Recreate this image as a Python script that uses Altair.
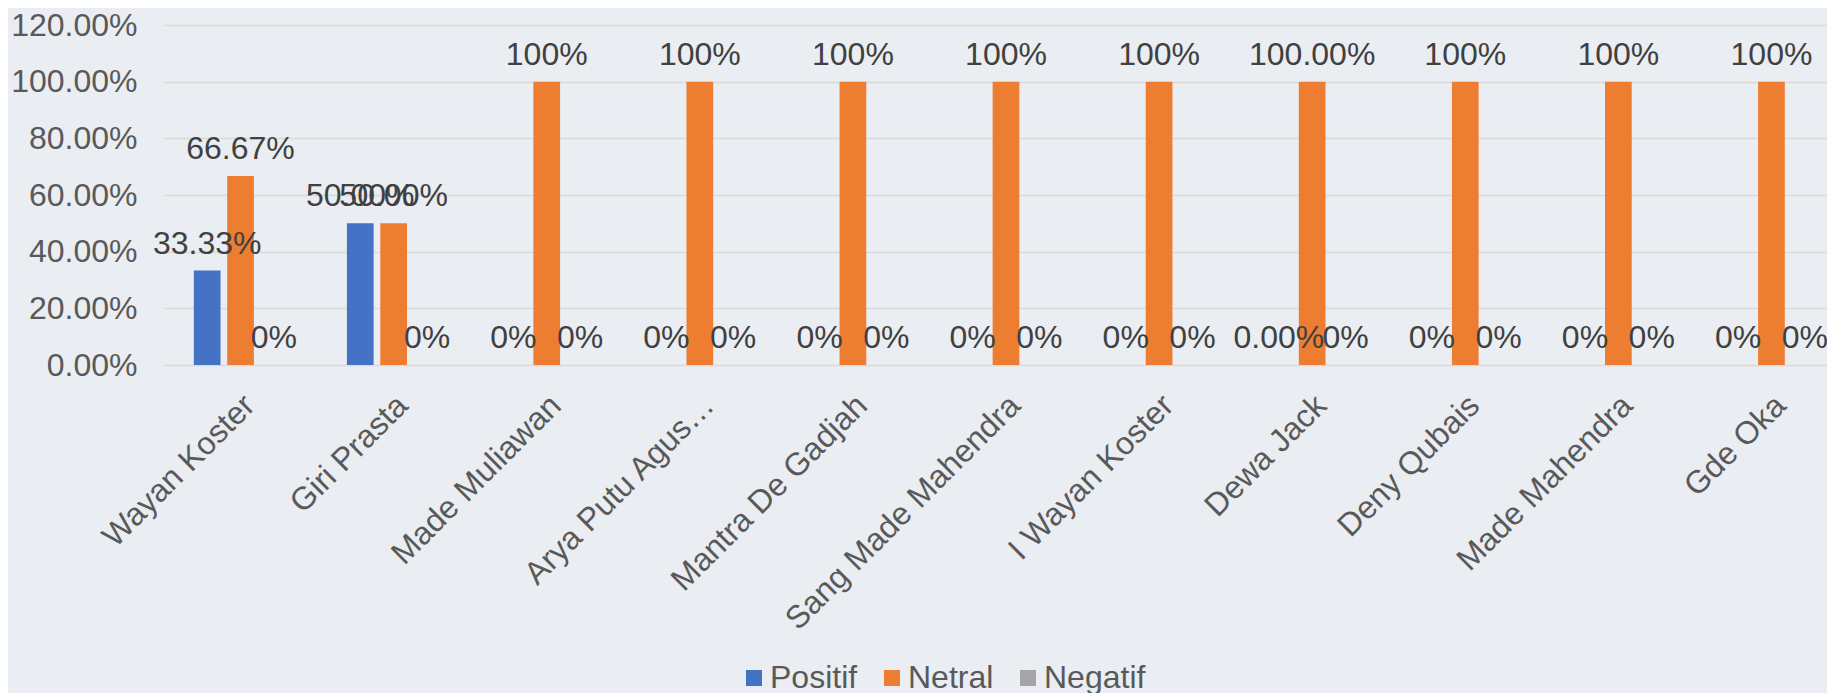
import altair as alt
import pandas as pd

names = ["Wayan Koster", "Giri Prasta", "Made Muliawan", "Arya Putu Agus…",
         "Mantra De Gadjah", "Sang Made Mahendra", "I Wayan Koster", "Dewa Jack",
         "Deny Qubais", "Made Mahendra", "Gde Oka"]
series = ["Positif", "Netral", "Negatif"]
positif = [0.3333, 0.50, 0, 0, 0, 0, 0, 0, 0, 0, 0]
netral = [0.6667, 0.50, 1, 1, 1, 1, 1, 1, 1, 1, 1]
negatif = [0, 0, 0, 0, 0, 0, 0, 0, 0, 0, 0]
positif_labels = ["33.33%", "50.00%", "0%", "0%", "0%", "0%", "0%", "0.00%", "0%", "0%", "0%"]
netral_labels = ["66.67%", "50.00%", "100%", "100%", "100%", "100%", "100%", "100.00%", "100%", "100%", "100%"]
negatif_labels = ["0%"] * 11
colors = ["#4472C4", "#ED7D31", "#A5A5A5"]
y_ticks = [0, 0.2, 0.4, 0.6, 0.8, 1.0, 1.2]

rows = []
for i, n in enumerate(names):
    for s, vals, labs in zip(series, [positif, netral, negatif],
                             [positif_labels, netral_labels, negatif_labels]):
        rows.append({"name": n, "series": s, "value": vals[i], "label": labs[i]})
df = pd.DataFrame(rows)

FONT = "Liberation Sans"
FS = 32

x = alt.X("name:N", sort=names,
          scale=alt.Scale(range=[0, 1684], paddingInner=0.346, paddingOuter=0.173),
          axis=alt.Axis(title=None, labelAngle=-45, labelAlign="right", labelBaseline="middle",
                        labelPadding=35, labelOffset=9, labelFontSize=FS, labelColor="#595959",
                        labelFont=FONT, domain=False, ticks=False, tickSize=0, grid=False,
                        labelOverlap=False, labelLimit=500))
xo = alt.XOffset("series:N", sort=series, scale=alt.Scale(paddingInner=0.2, paddingOuter=0.1))
y = alt.Y("value:Q", scale=alt.Scale(domain=[0, 1.2], nice=False),
          axis=alt.Axis(title=None, values=y_ticks, format=".2%", labelFontSize=FS,
                        labelColor="#595959", labelFont=FONT, labelPadding=27,
                        domain=False, ticks=False, tickSize=0,
                        gridColor="#d9d9d9", gridWidth=1.5))

bars = alt.Chart(df).mark_bar().encode(
    x=x, xOffset=xo, y=y,
    color=alt.Color("series:N", sort=series,
                    scale=alt.Scale(domain=series, range=colors),
                    legend=alt.Legend(title=None, orient="none", legendX=574, legendY=637,
                                      direction="horizontal", symbolType="square",
                                      symbolSize=256, symbolStrokeWidth=0, symbolOpacity=1,
                                      labelFontSize=FS, labelColor="#595959", labelFont=FONT,
                                      labelOffset=0, columnPadding=18, padding=0))
)

texts = alt.Chart(df).mark_text(dy=-17, fontSize=FS, color="#404040", baseline="alphabetic",
                                align="center", font=FONT).encode(
    x=x, xOffset=xo, y=y, text="label:N"
)

chart = alt.layer(bars, texts).properties(
    width=1663, height=340,
    autosize=alt.AutoSizeParams(type="none"),
    padding={"left": 156, "top": 17, "right": 0, "bottom": 328},
    background="#eaedf2",
).configure_view(stroke=None)

chart.save("out.html", embed_options={"renderer": "svg", "actions": False})
